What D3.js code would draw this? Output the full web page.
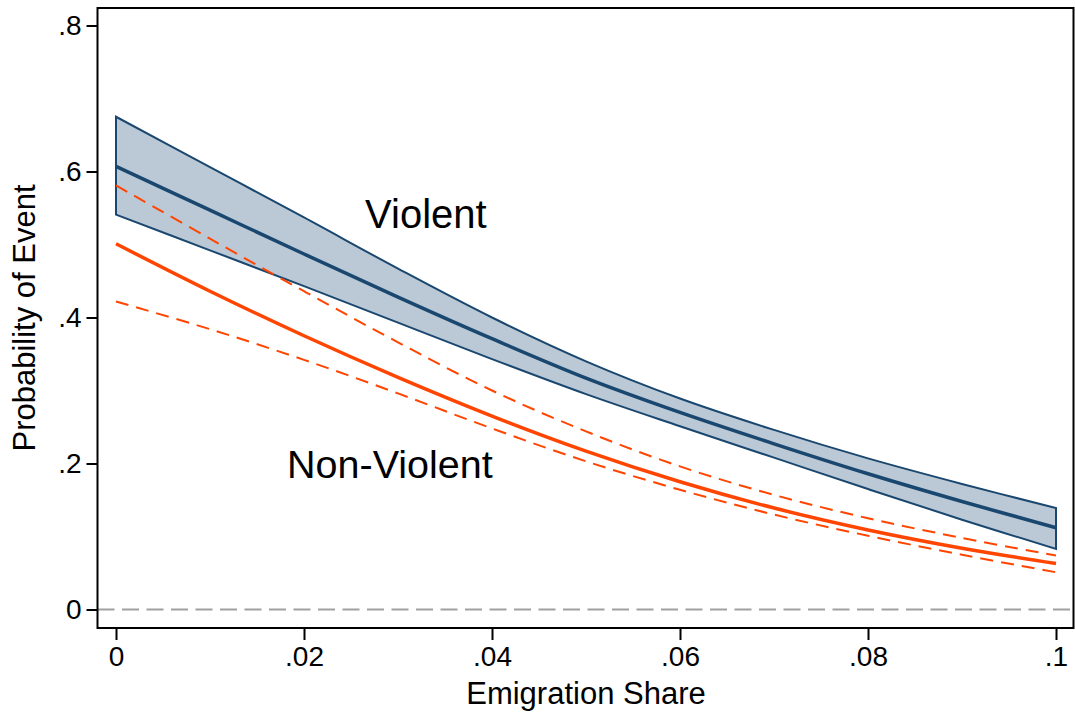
<!DOCTYPE html>
<html>
<head>
<meta charset="utf-8">
<script src="https://cdn.jsdelivr.net/npm/d3@7"></script>
<style>
  body { margin: 0; background: #fff; }
  svg { display: block; font-family: "Liberation Sans", Arial, sans-serif; }
</style>
</head>
<body>
<div id="chart"></div>
<script>
// emigration share grid
const share = [0, 0.01, 0.02, 0.03, 0.04, 0.05, 0.06, 0.07, 0.08, 0.09, 0.1];

// violent events: prediction and 95% band
const violentMean  = [0.607, 0.547, 0.487, 0.428, 0.371, 0.317, 0.270, 0.227, 0.186, 0.148, 0.112];
const violentUpper = [0.675, 0.606, 0.537, 0.467, 0.400, 0.340, 0.289, 0.246, 0.207, 0.172, 0.139];
const violentLower = [0.541, 0.492, 0.443, 0.393, 0.343, 0.295, 0.251, 0.208, 0.165, 0.123, 0.083];

// non-violent events: prediction and dashed bounds
const nonViolentMean  = [0.501, 0.436, 0.375, 0.318, 0.265, 0.217, 0.175, 0.139, 0.109, 0.084, 0.063];
const nonViolentUpper = [0.581, 0.508, 0.436, 0.366, 0.300, 0.244, 0.196, 0.157, 0.125, 0.098, 0.074];
const nonViolentLower = [0.422, 0.384, 0.342, 0.296, 0.248, 0.203, 0.164, 0.130, 0.101, 0.075, 0.051];

const xTicks = [0, 0.02, 0.04, 0.06, 0.08, 0.1];
const xTickLabels = ["0", ".02", ".04", ".06", ".08", ".1"];
const yTicks = [0, 0.2, 0.4, 0.6, 0.8];
const yTickLabels = ["0", ".2", ".4", ".6", ".8"];

const W = 1075, H = 715;
const frame = { left: 97.5, right: 1073.5, top: 8, bottom: 628 };

const svg = d3.select("#chart").append("svg")
    .attr("width", W)
    .attr("height", H);

const x = d3.scaleLinear().domain([0, 0.1]).range([116, 1056]);
const y = d3.scaleLinear().domain([0, 0.8]).range([609.5, 25.5]);

const navy = "#1a476f";
const orange = "#ff4500";
const curve = d3.curveCatmullRom.alpha(0.5);

// zero reference line
svg.append("line")
    .attr("x1", frame.left).attr("x2", frame.right)
    .attr("y1", y(0)).attr("y2", y(0))
    .attr("stroke", "#a0a0a0")
    .attr("stroke-width", 2)
    .attr("stroke-dasharray", "17,7.5");

const pts = (vals) => share.map((s, i) => [s, vals[i]]);

// violent band
const area = d3.area()
    .x((d, i) => x(share[i]))
    .y0((d, i) => y(violentLower[i]))
    .y1((d, i) => y(violentUpper[i]))
    .curve(curve);

svg.append("path")
    .datum(share)
    .attr("d", area)
    .attr("fill", "#bac9d5")
    .attr("stroke", navy)
    .attr("stroke-width", 2);

// vertical ends of the band
[0, share.length - 1].forEach(i => {
    svg.append("line")
        .attr("x1", x(share[i])).attr("x2", x(share[i]))
        .attr("y1", y(violentLower[i])).attr("y2", y(violentUpper[i]))
        .attr("stroke", navy)
        .attr("stroke-width", 2);
});

const line = d3.line()
    .x(d => x(d[0]))
    .y(d => y(d[1]))
    .curve(curve);

svg.append("path")
    .attr("d", line(pts(violentMean)))
    .attr("fill", "none")
    .attr("stroke", navy)
    .attr("stroke-width", 3.5);

[nonViolentUpper, nonViolentLower].forEach(vals => {
    svg.append("path")
        .attr("d", line(pts(vals)))
        .attr("fill", "none")
        .attr("stroke", orange)
        .attr("stroke-width", 2)
        .attr("stroke-dasharray", "13,8");
});

svg.append("path")
    .attr("d", line(pts(nonViolentMean)))
    .attr("fill", "none")
    .attr("stroke", orange)
    .attr("stroke-width", 3.5);

// frame
svg.append("rect")
    .attr("x", frame.left).attr("y", frame.top)
    .attr("width", frame.right - frame.left)
    .attr("height", frame.bottom - frame.top)
    .attr("fill", "none")
    .attr("stroke", "#000")
    .attr("stroke-width", 2);

// axes
const xAxis = d3.axisBottom(x)
    .tickValues(xTicks)
    .tickFormat((d, i) => xTickLabels[i])
    .tickSize(12)
    .tickPadding(6);

const gx = svg.append("g")
    .attr("transform", `translate(0,${frame.bottom})`)
    .call(xAxis);
gx.select(".domain").remove();
gx.selectAll(".tick line").attr("stroke", "#000").attr("stroke-width", 2);
gx.selectAll(".tick text")
    .attr("fill", "#000")
    .style("font-size", "28px")
    .style("font-family", "Liberation Sans, Arial, sans-serif");

const yAxis = d3.axisLeft(y)
    .tickValues(yTicks)
    .tickFormat((d, i) => yTickLabels[i])
    .tickSize(11)
    .tickPadding(5);

const gy = svg.append("g")
    .attr("transform", `translate(${frame.left},0)`)
    .call(yAxis);
gy.select(".domain").remove();
gy.selectAll(".tick line").attr("stroke", "#000").attr("stroke-width", 2);
gy.selectAll(".tick text")
    .attr("fill", "#000")
    .style("font-size", "28px")
    .style("font-family", "Liberation Sans, Arial, sans-serif");

// titles
svg.append("text")
    .attr("x", (x(0) + x(0.1)) / 2)
    .attr("y", 704)
    .attr("text-anchor", "middle")
    .style("font-size", "31px")
    .text("Emigration Share");

svg.append("text")
    .attr("transform", `translate(35,${(frame.top + frame.bottom) / 2}) rotate(-90)`)
    .attr("text-anchor", "middle")
    .style("font-size", "31px")
    .text("Probability of Event");

// labels on the curves
svg.append("text")
    .attr("x", x(0.0265))
    .attr("y", y(0.522))
    .style("font-size", "40px")
    .text("Violent");

svg.append("text")
    .attr("x", x(0.0182))
    .attr("y", y(0.18))
    .style("font-size", "39.5px")
    .text("Non-Violent");
</script>
</body>
</html>
